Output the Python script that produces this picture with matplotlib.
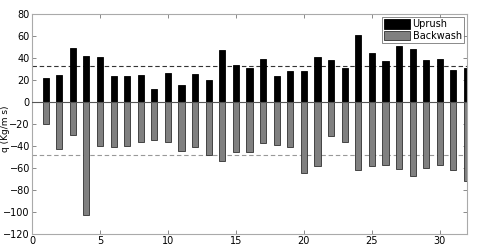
import numpy as np
import matplotlib.pyplot as plt

# wave cycles and sediment fluxes
cycle = np.arange(1, 33)
uprush = [22, 24.5, 49, 41.5, 40.5, 23.5, 23.5, 24.5, 12, 26.5,
          15.5, 25.5, 20, 47, 34, 31, 39, 24, 28, 28,
          41, 38.5, 30.5, 61, 44.5, 37, 50.5, 48.5, 38.5, 39.5,
          29.5, 30.5]
backwash = [-20, -43, -30, -103, -40, -40.5, -40, -36.5, -34.5, -36.5,
            -44.5, -41, -48.5, -54, -45.5, -45.5, -37.5, -39, -41, -64.5,
            -58, -30.5, -36.5, -62, -58, -57, -60.5, -67, -60, -57,
            -62, -72]
mean_up = 33
mean_back = -48.5

plt.rcParams['font.size'] = 7
fig = plt.figure(figsize=(4.78, 2.49), dpi=100)
ax = fig.add_axes([0.067, 0.06, 0.91, 0.884])

ax.bar(cycle, uprush, width=0.45, color='black', edgecolor='black', linewidth=0.6, label='Uprush', zorder=2)
ax.bar(cycle, backwash, width=0.45, color='#808080', edgecolor='#303030', linewidth=0.6, label='Backwash', zorder=2)
ax.axhline(0, color='#555555', linewidth=0.8, zorder=3)
ax.axhline(mean_up, color='#333333', linestyle='--', linewidth=0.8, dashes=(4, 2.5), zorder=1)
ax.axhline(mean_back, color='#999999', linestyle='--', linewidth=0.8, dashes=(4, 2.5), zorder=1)

ax.set_xlim(0, 32)
ax.set_ylim(-120, 80)
ax.set_xticks([0, 5, 10, 15, 20, 25, 30])
ax.set_yticks(np.arange(-120, 81, 20))
ax.set_ylabel('q (Kg/m s)', fontsize=6.5)
ax.yaxis.set_label_coords(-0.05, 0.48)
ax.tick_params(direction='in', top=True, right=True, length=3, width=0.6, color='#777777', pad=1.5)
for s in ax.spines.values():
    s.set_color('#aaaaaa')
    s.set_linewidth(0.8)

leg = ax.legend(loc='upper right', fontsize=7, frameon=True, fancybox=False, borderpad=0.25,
                handlelength=2.6, handleheight=1.1, handletextpad=0.3, labelspacing=0.15,
                borderaxespad=0.3)
leg.get_frame().set_edgecolor('#555555')
leg.get_frame().set_linewidth(0.6)

fig.savefig('out.png', dpi=100)
